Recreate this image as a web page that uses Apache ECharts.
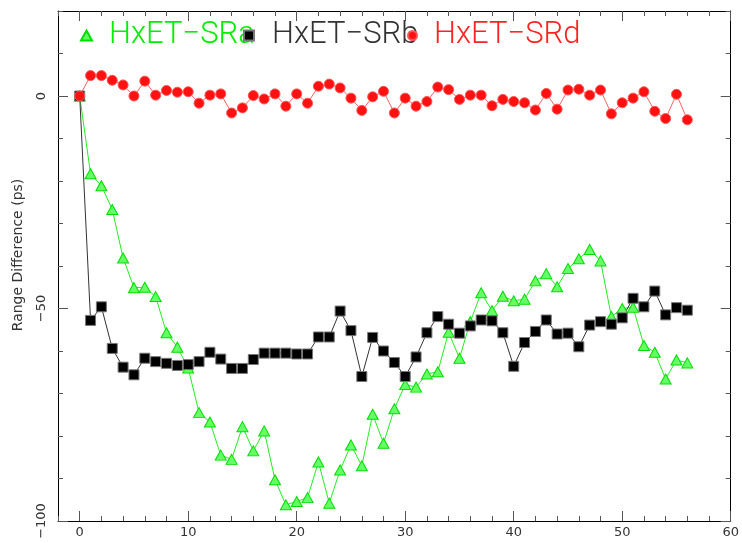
<!DOCTYPE html>
<html>
<head>
<meta charset="utf-8">
<script src="https://cdn.jsdelivr.net/npm/echarts@6/dist/echarts.min.js"></script>
<style>html,body{margin:0;padding:0;background:#fff}#c{width:742px;height:543px}</style>
</head>
<body>
<div id="c"></div>
<script>
// ---- data ----
const xs = [0,1,2,3,4,5,6,7,8,9,10,11,12,13,14,15,16,17,18,19,20,21,22,23,24,25,26,27,28,29,30,31,32,33,34,35,36,37,38,39,40,41,42,43,44,45,46,47,48,49,50,51,52,53,54,55,56];
const seriesNames = ['HxET\u2212SRa', 'HxET\u2212SRb', 'HxET\u2212SRd'];
const sra = [0,-18.3,-21.1,-26.7,-38.1,-45.1,-45.0,-47.2,-55.7,-59.1,-64.0,-74.5,-76.7,-84.5,-85.5,-77.8,-83.5,-78.8,-90.3,-96.2,-95.4,-94.5,-86.1,-95.8,-88.0,-82.1,-87.0,-74.9,-81.7,-73.6,-67.9,-68.5,-65.4,-64.9,-55.6,-61.7,-53.1,-46.3,-50.5,-47.1,-48.2,-47.8,-43.5,-41.8,-44.9,-40.6,-38.3,-36.1,-38.8,-51.9,-50.0,-49.7,-58.7,-60.3,-66.6,-62.1,-62.8];
const srb = [0,-52.8,-49.6,-59.4,-63.8,-65.6,-61.7,-62.5,-62.9,-63.4,-63.2,-62.5,-60.3,-61.9,-64.1,-64.1,-62.0,-60.5,-60.5,-60.5,-60.7,-60.7,-56.7,-56.7,-50.6,-55.2,-66.0,-56.8,-60.0,-62.7,-66.0,-61.4,-55.7,-51.9,-53.7,-55.8,-54.1,-52.7,-52.9,-55.7,-63.6,-58.0,-55.4,-52.7,-56.0,-55.8,-59.0,-53.9,-53.1,-53.7,-52.2,-47.6,-49.6,-45.9,-51.5,-49.8,-50.4];
const srd = [0,4.8,4.8,3.7,2.6,0,3.5,0.2,1.3,0.9,1.0,-1.7,0.2,0.5,-4.0,-2.8,0.1,-0.7,0.5,-2.4,0.5,-1.7,2.3,2.8,1.9,-0.5,-3.4,-0.2,1.1,-4.0,-0.5,-2.4,-1.3,2.1,1.5,-0.8,0.2,0.2,-2.3,-0.8,-1.3,-1.6,-3.3,0.6,-3.1,1.4,1.6,0.2,1.4,-4.2,-1.6,-0.5,1.0,-3.6,-5.3,0.4,-5.6];
const xMajorTicks = [0,10,20,30,40,50,60];
const xMinorTicks = [-2,0,2,4,6,8,10,12,14,16,18,20,22,24,26,28,30,32,34,36,38,40,42,44,46,48,50,52,54,56,58,60];
const yMajorTicks = [-100,-50,0];
const yMinorTicks = [-100,-90,-80,-70,-60,-50,-40,-30,-20,-10,0,10,20];
const yAxisName = 'Range Difference (ps)';

// ---- chart ----
const FONT = 'DejaVu Sans';
const LFONT = 'Roboto';
const TICKC = '#555';
const fmt = v => String(v).replace('-', '\u2212');

function xAx(pos, major, withLabels) {
  return {
    type: 'value', position: pos, min: -2, max: 60,
    axisLine: { show: major, onZero: false, lineStyle: { color: '#000', width: 1 } },
    axisTick: { show: true, inside: true, length: major ? 10 : 5,
      customValues: major ? xMajorTicks : xMinorTicks, lineStyle: { color: TICKC } },
    axisLabel: withLabels ? { show: true, customValues: xMajorTicks, margin: 5, color: '#333',
      fontSize: 13, fontFamily: FONT, formatter: fmt } : { show: false },
    splitLine: { show: false }
  };
}
function yAx(pos, major, withLabels) {
  const a = {
    type: 'value', position: pos, min: -100, max: 20,
    axisLine: { show: major, onZero: false, lineStyle: { color: '#000', width: 1 } },
    axisTick: { show: true, inside: true, length: major ? 10 : 5,
      customValues: major ? yMajorTicks : yMinorTicks, lineStyle: { color: TICKC } },
    axisLabel: withLabels ? { show: true, customValues: yMajorTicks, rotate: 90, margin: 10, color: '#333',
      fontSize: 13, fontFamily: FONT, formatter: fmt } : { show: false },
    splitLine: { show: false }
  };
  if (withLabels) {
    a.name = yAxisName;
    a.nameLocation = 'middle';
    a.nameGap = 33;
    a.nameTextStyle = { fontSize: 14, fontFamily: FONT, color: '#333', padding: [0, 0, 0, 22] };
  }
  return a;
}

function legendFor(name, icon, left, w, h, pad, color) {
  return {
    data: [{ name: name, icon: icon }], left: left, top: 20, padding: 0,
    itemWidth: w, itemHeight: h, selectedMode: false,
    textStyle: { color: color, fontSize: 31, fontFamily: LFONT, fontWeight: 300, padding: [0, 0, 0, pad] }
  };
}

const option = {
  animation: false,
  backgroundColor: '#fff',
  grid: { left: 58, right: 11, top: 11, bottom: 22, containLabel: false },
  legend: [
    legendFor(seriesNames[0], 'triangle', 80, 11, 10, 12, '#00ee00'),
    legendFor(seriesNames[1], 'rect', 243, 10, 10, 13, '#333'),
    legendFor(seriesNames[2], 'circle', 407, 9, 9, 12, '#ff2222')
  ],
  xAxis: [xAx('bottom', true, true), xAx('bottom', false, false), xAx('top', true, false), xAx('top', false, false)],
  yAxis: [yAx('left', true, true), yAx('left', false, false), yAx('right', true, false), yAx('right', false, false)],
  series: [
    { type: 'line', name: seriesNames[0], data: xs.map((x, i) => [x, sra[i]]),
      symbol: 'triangle', symbolSize: [11, 10], showAllSymbol: true,
      lineStyle: { color: '#22ee22', width: 1 },
      itemStyle: { color: '#66ff66', borderColor: '#00dd00', borderWidth: 1 } },
    { type: 'line', name: seriesNames[1], data: xs.map((x, i) => [x, srb[i]]),
      symbol: 'rect', symbolSize: 10, showAllSymbol: true,
      lineStyle: { color: '#333', width: 1 },
      itemStyle: { color: '#000', borderColor: '#777', borderWidth: 1 } },
    { type: 'line', name: seriesNames[2], data: xs.map((x, i) => [x, srd[i]]),
      symbol: 'circle', symbolSize: 10, showAllSymbol: true,
      lineStyle: { color: '#ff6060', width: 1 },
      itemStyle: { color: '#ff1111', borderColor: '#ff5555', borderWidth: 1 } }
  ]
};
const chart = echarts.init(document.getElementById('c'), null, { renderer: 'canvas' });
chart.setOption(option);
</script>
</body>
</html>
